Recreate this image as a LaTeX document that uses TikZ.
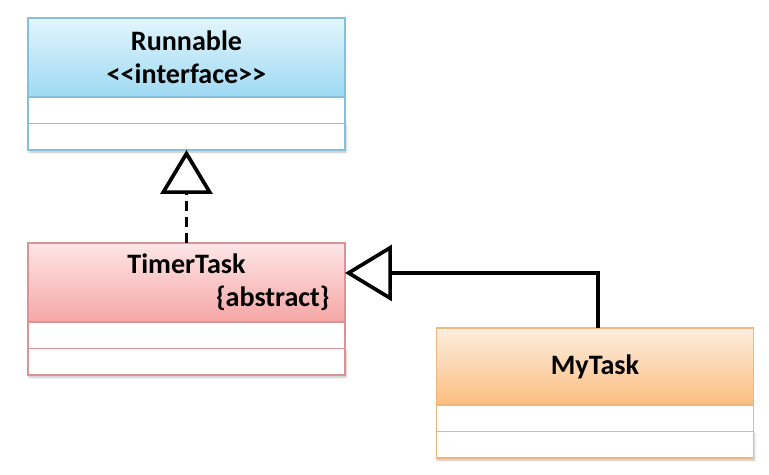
\documentclass[tikz,border=0pt]{standalone}
\usepackage{fontspec}
\setmainfont{Carlito}
\usepackage{xcolor}
\usepackage{tikz}
\usetikzlibrary{arrows.meta,positioning,shadows.blur}

\definecolor{runtop}{HTML}{E2F5FC}
\definecolor{runbot}{HTML}{9ED9F3}
\definecolor{runline}{HTML}{86C0D8}
\definecolor{tttop}{HTML}{FDE6E6}
\definecolor{ttbot}{HTML}{F6A6A6}
\definecolor{ttline}{HTML}{D99494}
\definecolor{mytop}{HTML}{FDEEDF}
\definecolor{mybot}{HTML}{FBBD80}
\definecolor{myline}{HTML}{F0B67C}

\begin{document}
\begin{tikzpicture}[
  x=0.02cm, y=-0.02cm,
  box/.style={draw,line width=0.8pt,outer sep=0pt,inner sep=0pt,minimum width=6.34cm},
  head/.style={box,minimum height=1.58cm,align=center,font=\fontsize{16}{18.5}\selectfont\bfseries},
  comp/.style={box,fill=white,minimum height=0.53cm},
  last/.style={comp,blur shadow={shadow xshift=0.6pt,shadow yshift=-1.2pt,shadow blur radius=1.2pt,shadow opacity=25}},
  impl/.style={line width=2.1pt,dash pattern=on 0.2cm off 0.12cm,-{Triangle[open,length=0.88cm,width=1.04cm]}},
  inherit/.style={line width=2.1pt,line join=miter,-{Triangle[open,length=0.94cm,width=1.12cm]}}
]
\useasboundingbox (0,0) rectangle (769,475);

% Runnable
\node[head,draw=runline,top color=runtop,bottom color=runbot] (run) at (186.5,57.5) {Runnable\\<{}<interface>{}>};
\node[comp,draw=runline,below=0pt of run] (run-a) {};
\node[last,draw=runline,below=0pt of run-a] (run-b) {};

% TimerTask
\node[head,draw=ttline,top color=tttop,bottom color=ttbot,below=1.86cm of run-b] (tt) {TimerTask\\\phantom{\{abstract\}}};
\node[anchor=east,inner sep=0pt,font=\fontsize{16}{18.5}\selectfont\bfseries] (tt-abs) at ([xshift=-0.3cm,yshift=-0.31cm]tt.east) {\{abstract\}};
\node[comp,draw=ttline,below=0pt of tt] (tt-a) {};
\node[last,draw=ttline,below=0pt of tt-a] (tt-b) {};

% MyTask
\node[head,draw=myline,top color=mytop,bottom color=mybot,minimum height=1.54cm] (my) at (595,366.5) {MyTask};
\node[comp,draw=myline,below=0pt of my] (my-a) {};
\node[last,draw=myline,below=0pt of my-a] (my-b) {};

\draw[impl] (tt.north) -- (run-b.south);
\draw[inherit] ([xshift=0.06cm]my.north) |- ([yshift=0.19cm]tt.east);
\end{tikzpicture}
\end{document}
